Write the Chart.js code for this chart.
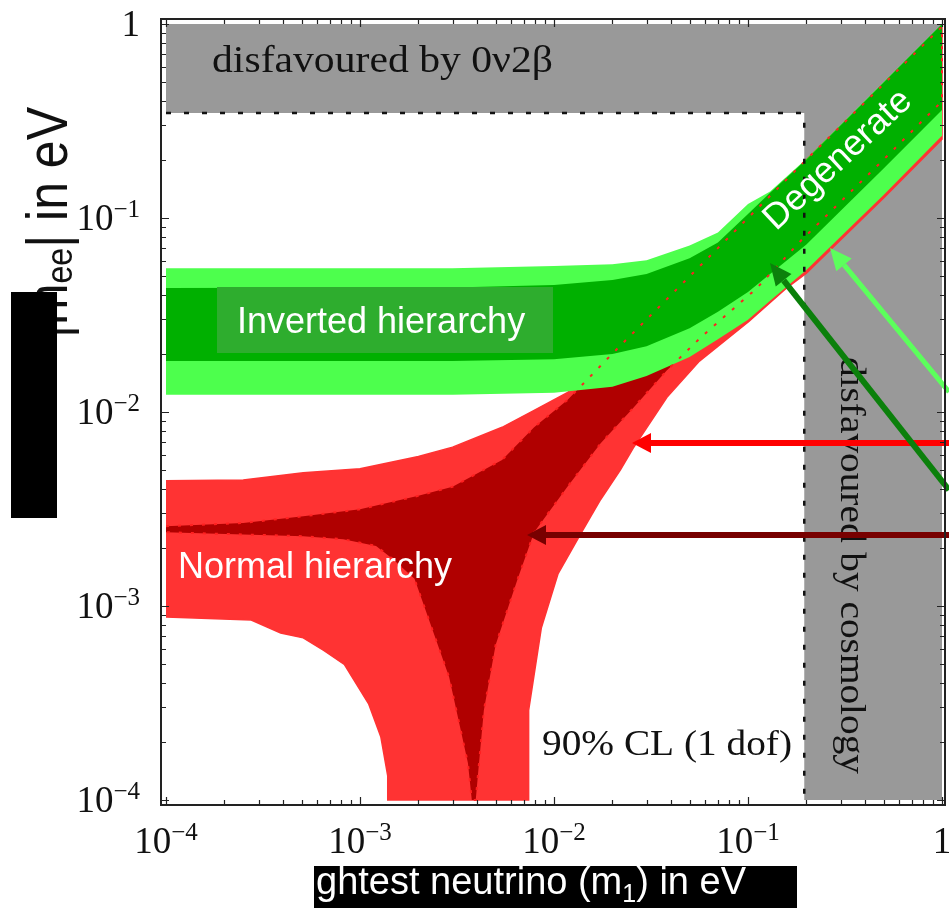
<!DOCTYPE html>
<html>
<head>
<meta charset="utf-8">
<script src="https://cdn.jsdelivr.net/npm/chart.js@4.4.1/dist/chart.umd.min.js"></script>
<style>
  html, body { margin: 0; padding: 0; background: #fff; }
  #c { display: block; }
</style>
</head>
<body>
<canvas id="c" width="949" height="908"></canvas>
<script>
// lightest neutrino mass m1 (eV) and |m_ee| band edges (eV)

// inverted hierarchy (green)
const ihM1       = [1e-4, 3e-3, 0.01, 0.02, 0.03, 0.05, 0.07, 0.1, 0.13, 0.2, 0.5, 1];
const ihLightTop = [0.0551, 0.0551, 0.0565, 0.0578, 0.0606, 0.0722, 0.0841, 0.118, 0.137, 0.202, 0.502, 1.0];
const ihDarkTop  = [0.0436, 0.0438, 0.0452, 0.0479, 0.0514, 0.062, 0.0748, 0.105, 0.135, 0.2, 0.5, 1.0];
const ihDarkBot  = [0.0183, 0.0183, 0.0187, 0.0199, 0.0218, 0.027, 0.0329, 0.0416, 0.0515, 0.0731, 0.18, 0.36];
const ihLightBot = [0.01228, 0.01228, 0.01257, 0.01349, 0.01535, 0.0192, 0.0237, 0.0299, 0.0374, 0.0539, 0.1314, 0.2656];

// normal hierarchy (red), upper edges left to right
const nhTopM1      = [1e-4, 2.5e-4, 5.1e-4, 1e-3, 2e-3, 3e-3, 5.4e-3, 7.9e-3, 0.0117, 0.02, 0.03, 0.05, 0.1, 0.2, 0.5, 1];
const nhLightTop   = [0.00442, 0.00446, 0.00486, 0.0051, 0.0059, 0.00659, 0.00834, 0.0102, 0.01257, 0.02, 0.03, 0.05, 0.1, 0.2, 0.49, 0.98];
const nhDarkTop    = [0.00258, 0.00268, 0.0029, 0.00315, 0.0037, 0.00412, 0.00566, 0.00834, 0.0115, 0.02, 0.03, 0.05, 0.1, 0.2, 0.49, 0.97];

// lower edges traced right to left, down into the cancellation funnel and back up
const nhLightLowM1  = [1, 0.5, 0.2, 0.156, 0.101, 0.0562, 0.0382, 0.0256, 0.022, 0.0174, 0.0137, 0.0105, 0.0086, 0.0074, 0.0074, 0.0074,
                       0.00139, 0.00139, 0.00128, 0.00111, 8.3e-4, 6.5e-4, 5.1e-4, 3.9e-4, 2.75e-4, 1e-4];
const nhLightLowMee = [0.255, 0.127, 0.052, 0.0431, 0.0293, 0.0183, 0.0119, 0.00652, 0.00503, 0.00354, 0.00235, 0.00147, 7.7e-4, 2.9e-4, 1.33e-4, 1e-4,
                       1e-4, 1.33e-4, 2.12e-4, 3.12e-4, 5.0e-4, 5.9e-4, 6.85e-4, 7.26e-4, 8.46e-4, 8.77e-4];
const nhDarkLowM1   = [1, 0.5, 0.19, 0.11, 0.058, 0.038, 0.0256, 0.0174, 0.0117, 0.0079, 0.0065, 0.005, 0.00435, 0.00405, 0.00395,
                       0.00377, 0.0036, 0.00288, 0.00191, 0.00147, 0.00121, 8.2e-4, 5.1e-4, 1e-4];
const nhDarkLowMee  = [0.40, 0.2, 0.0775, 0.0431, 0.0246, 0.0163, 0.0105, 0.0069, 0.0041, 0.0024, 0.00138, 6.3e-4, 2.9e-4, 1.33e-4, 1e-4,
                       1e-4, 1.55e-4, 4.3e-4, 0.00138, 0.00175, 0.00204, 0.00221, 0.00229, 0.0024];

// excluded regions
const bbLimit = 0.348;     // 0v2b bound on m_ee
const cosmoLimit = 0.195;  // cosmology bound on m1

const tickExps = [-4, -3, -2, -1, 0];

const xMin = Math.pow(10, -4 - 5 / 194), xMax = Math.pow(10, 3 / 194);
const yMin = Math.pow(10, -4 - 5 / 194), yMax = Math.pow(10, 5 / 194);

const pts = (xs, ys) => xs.map((x, i) => ({ x: x, y: ys[i] }));
const band = (xs, top, bot) => pts(xs, top).concat(pts(xs, bot).reverse());

const greyShape = pts([1e-4, 1, 1, cosmoLimit, cosmoLimit, 1e-4], [1, 1, 1e-4, 1e-4, bbLimit, bbLimit]);
const limitLine = pts([1e-4, cosmoLimit, cosmoLimit], [bbLimit, bbLimit, 1e-4]);

const nhLight = pts(nhTopM1, nhLightTop).concat(pts(nhLightLowM1, nhLightLowMee));
const nhDark = pts(nhTopM1, nhDarkTop).concat(pts(nhDarkLowM1, nhDarkLowMee));

function shape(data, color, order, border) {
  return {
    data: data, showLine: true, fill: 'shape', backgroundColor: color,
    borderColor: border || color, borderWidth: border ? 1.5 : 0, pointRadius: 0, order: order
  };
}

const datasets = [
  shape(greyShape, '#999999', 10),
  shape(nhLight, '#ff3333', 9, '#ff3333'),
  shape(nhDark, '#b00000', 8),
  shape(band(ihM1, ihLightTop, ihLightBot), '#4dff4d', 7),
  shape(band(ihM1, ihDarkTop, ihDarkBot), '#00b000', 6),
  { data: nhDark, showLine: true, fill: false, borderColor: '#ff2020', borderWidth: 2,
    borderDash: [3, 9], pointRadius: 0, order: 5 },
  { data: limitLine, showLine: true, fill: false, borderColor: '#111', borderWidth: 2.5,
    borderDash: [5, 13], pointRadius: 0, order: 4 }
];

const SERIF = '"Liberation Serif", "Times New Roman", serif';
const SANS = '"Liberation Sans", Arial, sans-serif';

function fitText(ctx, text, x, y, w) {
  const m = ctx.measureText(text).width;
  ctx.save();
  ctx.translate(x, y);
  ctx.scale(w / m, 1);
  ctx.fillText(text, 0, 0);
  ctx.restore();
}

function arrow(ctx, x1, y1, x2, y2, color, w, hl, hw) {
  const ang = Math.atan2(y2 - y1, x2 - x1);
  const bx = x2 - hl * Math.cos(ang), by = y2 - hl * Math.sin(ang);
  ctx.save();
  ctx.strokeStyle = color; ctx.fillStyle = color; ctx.lineWidth = w;
  ctx.beginPath(); ctx.moveTo(x1, y1); ctx.lineTo(bx, by); ctx.stroke();
  ctx.beginPath();
  ctx.moveTo(x2, y2);
  ctx.lineTo(bx + hw * Math.sin(ang), by - hw * Math.cos(ang));
  ctx.lineTo(bx - hw * Math.sin(ang), by + hw * Math.cos(ang));
  ctx.closePath(); ctx.fill();
  ctx.restore();
}

// "10" with a superscript exponent
function powLabel(ctx, e, x, y, align) {
  ctx.save();
  ctx.fillStyle = '#111';
  ctx.textBaseline = 'alphabetic';
  ctx.textAlign = 'left';
  if (e === 0) {
    ctx.font = '37px ' + SERIF;
    const w = ctx.measureText('1').width;
    const x0 = align === 'center' ? x - w / 2 : x - w;
    ctx.fillText('1', x0, y);
  } else {
    ctx.font = '37px ' + SERIF;
    const wb = ctx.measureText('10').width;
    ctx.font = '25px ' + SERIF;
    const sup = '\u2212' + (-e);
    const ws = ctx.measureText(sup).width;
    const x0 = align === 'center' ? x - (wb + ws) / 2 : x - wb - ws;
    ctx.font = '37px ' + SERIF;
    ctx.fillText('10', x0, y);
    ctx.font = '25px ' + SERIF;
    ctx.fillText(sup, x0 + wb, y - 13);
  }
  ctx.restore();
}

const decor = {
  id: 'decor',
  afterDatasetsDraw(chart) {
    const ctx = chart.ctx;
    const a = chart.chartArea;
    const xs = chart.scales.x, ys = chart.scales.y;

    // annotations in the plot
    ctx.save();
    ctx.fillStyle = '#111';
    ctx.textBaseline = 'alphabetic';
    ctx.font = '37px ' + SERIF;
    fitText(ctx, 'disfavoured by 0\u03bd2\u03b2', 212, 72, 341);
    ctx.font = '35px ' + SERIF;
    fitText(ctx, '90% CL (1 dof)', 542, 755, 250);
    ctx.save();
    ctx.translate(841, 357);
    ctx.rotate(Math.PI / 2);
    ctx.font = '36px ' + SERIF;
    fitText(ctx, 'disfavoured by cosmology', 0, 0, 417);
    ctx.restore();

    ctx.fillStyle = '#2ead2e';
    ctx.fillRect(217, 287, 336, 66);
    ctx.fillStyle = '#fff';
    ctx.font = '36px ' + SANS;
    ctx.fillText('Inverted hierarchy', 237, 333);
    ctx.fillText('Normal hierarchy', 178, 578);

    ctx.save();
    ctx.translate(838, 160);
    ctx.rotate(-43 * Math.PI / 180);
    ctx.textAlign = 'center';
    ctx.textBaseline = 'middle';
    ctx.fillText('Degenerate', 0, 0);
    ctx.restore();
    ctx.restore();

    // arrows coming in from the right
    arrow(ctx, 949, 443, 632, 443, '#ff0000', 6, 19, 10);
    arrow(ctx, 949, 535, 527, 535, '#780000', 6, 19, 10);
    arrow(ctx, 949, 490, 770, 263, '#0b800b', 6, 22, 10);
    arrow(ctx, 949, 392, 830, 248, '#5cff5c', 5, 22, 10);

    // frame with inward ticks on all sides
    ctx.save();
    ctx.strokeStyle = '#222';
    ctx.lineWidth = 1.2;
    ctx.beginPath();
    for (const e of tickExps) {
      for (let k = 1; k <= 9; k++) {
        const v = k * Math.pow(10, e);
        if (v > 1.0001) break;
        const len = k === 1 ? 8 : 5;
        const px = Math.round(xs.getPixelForValue(v)) + 0.5;
        ctx.moveTo(px, a.bottom); ctx.lineTo(px, a.bottom - len);
        ctx.moveTo(px, a.top); ctx.lineTo(px, a.top + len);
        const py = Math.round(ys.getPixelForValue(v)) + 0.5;
        ctx.moveTo(a.left, py); ctx.lineTo(a.left + len, py);
        ctx.moveTo(a.right, py); ctx.lineTo(a.right - len, py);
      }
    }
    ctx.stroke();
    ctx.lineWidth = 2;
    ctx.strokeRect(a.left, a.top, a.right - a.left, a.bottom - a.top);
    ctx.restore();

    // tick labels
    for (const e of tickExps) {
      const v = Math.pow(10, e);
      powLabel(ctx, e, xs.getPixelForValue(v), 853, 'center');
      powLabel(ctx, e, 140, ys.getPixelForValue(v) + 12, 'right');
    }

    // axis titles, partly covered by black boxes
    ctx.save();
    ctx.fillStyle = '#111';
    ctx.translate(67, 107);
    ctx.rotate(-Math.PI / 2);
    ctx.scale(1, 1.15);
    const parts = [['|m', 50, 0], ['ee', 32, 4], ['| in eV', 50, 0]];
    let total = 0;
    for (const p of parts) { ctx.font = p[1] + 'px ' + SANS; total += ctx.measureText(p[0]).width; }
    let cx = -total;
    for (const p of parts) {
      ctx.font = p[1] + 'px ' + SANS;
      ctx.fillText(p[0], cx, p[2]);
      cx += ctx.measureText(p[0]).width;
    }
    ctx.restore();
    ctx.fillStyle = '#000';
    ctx.fillRect(11, 292, 46, 226);

    ctx.fillRect(314, 866, 483, 42);
    ctx.save();
    ctx.beginPath(); ctx.rect(314, 866, 483, 42); ctx.clip();
    ctx.fillStyle = '#fff';
    ctx.font = '38px ' + SANS;
    let tx = 316;
    ctx.fillText('ghtest neutrino (m', tx, 894);
    tx += ctx.measureText('ghtest neutrino (m').width;
    ctx.font = '25px ' + SANS;
    ctx.fillText('1', tx, 902);
    tx += ctx.measureText('1').width;
    ctx.font = '38px ' + SANS;
    ctx.fillText(') in eV', tx, 894);
    ctx.restore();
  }
};

new Chart(document.getElementById('c').getContext('2d'), {
  type: 'scatter',
  data: { datasets: datasets },
  options: {
    responsive: false,
    animation: false,
    devicePixelRatio: 1,
    layout: { padding: { left: 161, top: 19, right: 4, bottom: 103 } },
    scales: {
      x: { type: 'logarithmic', min: xMin, max: xMax, display: false },
      y: { type: 'logarithmic', min: yMin, max: yMax, display: false }
    },
    elements: { line: { tension: 0 }, point: { radius: 0 } },
    plugins: { legend: { display: false }, tooltip: { enabled: false } }
  },
  plugins: [decor]
});
</script>
</body>
</html>
